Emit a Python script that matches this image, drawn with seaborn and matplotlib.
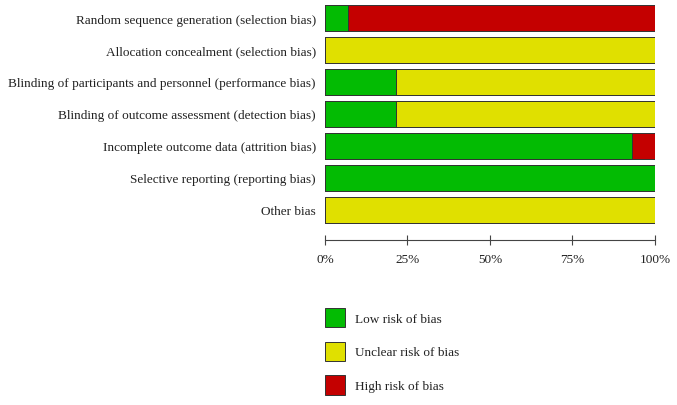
import pandas as pd
import seaborn as sns
import matplotlib.pyplot as plt
from matplotlib.patches import Patch
from matplotlib.ticker import PercentFormatter

# Risk of bias summary (percent of studies)
domains = [
    "Random sequence generation (selection bias)",
    "Allocation concealment (selection bias)",
    "Blinding of participants and personnel (performance bias)",
    "Blinding of outcome assessment (detection bias)",
    "Incomplete outcome data (attrition bias)",
    "Selective reporting (reporting bias)",
    "Other bias",
]
low = [7.1, 0, 21.4, 21.4, 92.9, 100, 0]
unclear = [0, 100, 78.6, 78.6, 0, 0, 100]
high = [92.9, 0, 0, 0, 7.1, 0, 0]
legend_labels = ["Low risk of bias", "Unclear risk of bias", "High risk of bias"]

colors = {"low": "#03bb03", "unclear": "#e0e000", "high": "#c40000"}

df = pd.DataFrame({"domain": domains, "low": low, "unclear": unclear, "high": high})
df["c_unclear"] = df["low"] + df["unclear"]
df["c_high"] = df["c_unclear"] + df["high"]

sns.set_style("white")
plt.rcParams["font.family"] = ["Liberation Serif", "DejaVu Serif"]
fs = 9.5

fig = plt.figure(figsize=(6.77, 4.06), dpi=100)
ax = fig.add_axes([0.48, 0.441, 0.4875, 0.5516])

# stacked bars: draw cumulative totals back to front
for col, key in [("c_high", "high"), ("c_unclear", "unclear"), ("low", "low")]:
    sns.barplot(data=df, x=col, y="domain", orient="h", color=colors[key],
                width=0.8, edgecolor="#333333", linewidth=0.7, saturation=1,
                ax=ax)

ax.set_xlim(0, 100)
ax.set_ylim(6.5, -0.5)
ax.set_xlabel("")
ax.set_ylabel("")
ax.set_xticks([0, 25, 50, 75, 100])
ax.xaxis.set_major_formatter(PercentFormatter(decimals=0))
for s in ["top", "right", "left"]:
    ax.spines[s].set_visible(False)
ax.spines["bottom"].set_position(("outward", 10))
ax.spines["bottom"].set_color("#444444")
ax.spines["bottom"].set_linewidth(0.8)
ax.tick_params(axis="x", bottom=True, direction="inout", length=7, width=0.8,
               color="#444444", pad=6, labelsize=fs, labelcolor="#222222")
ax.tick_params(axis="y", left=False, length=0, pad=6.5, labelsize=fs,
               labelcolor="#222222")

handles = [Patch(facecolor=colors[k], edgecolor="#333333", linewidth=0.7)
           for k in ["low", "unclear", "high"]]
leg = fig.legend(handles, legend_labels, loc="upper left",
                 bbox_to_anchor=(0.480, 0.239), frameon=False, fontsize=fs,
                 handlelength=1.52, handleheight=1.85, handletextpad=0.76,
                 labelspacing=1.11, borderpad=0, borderaxespad=0)
for t in leg.get_texts():
    t.set_color("#222222")

fig.savefig("out.png", dpi=100)
